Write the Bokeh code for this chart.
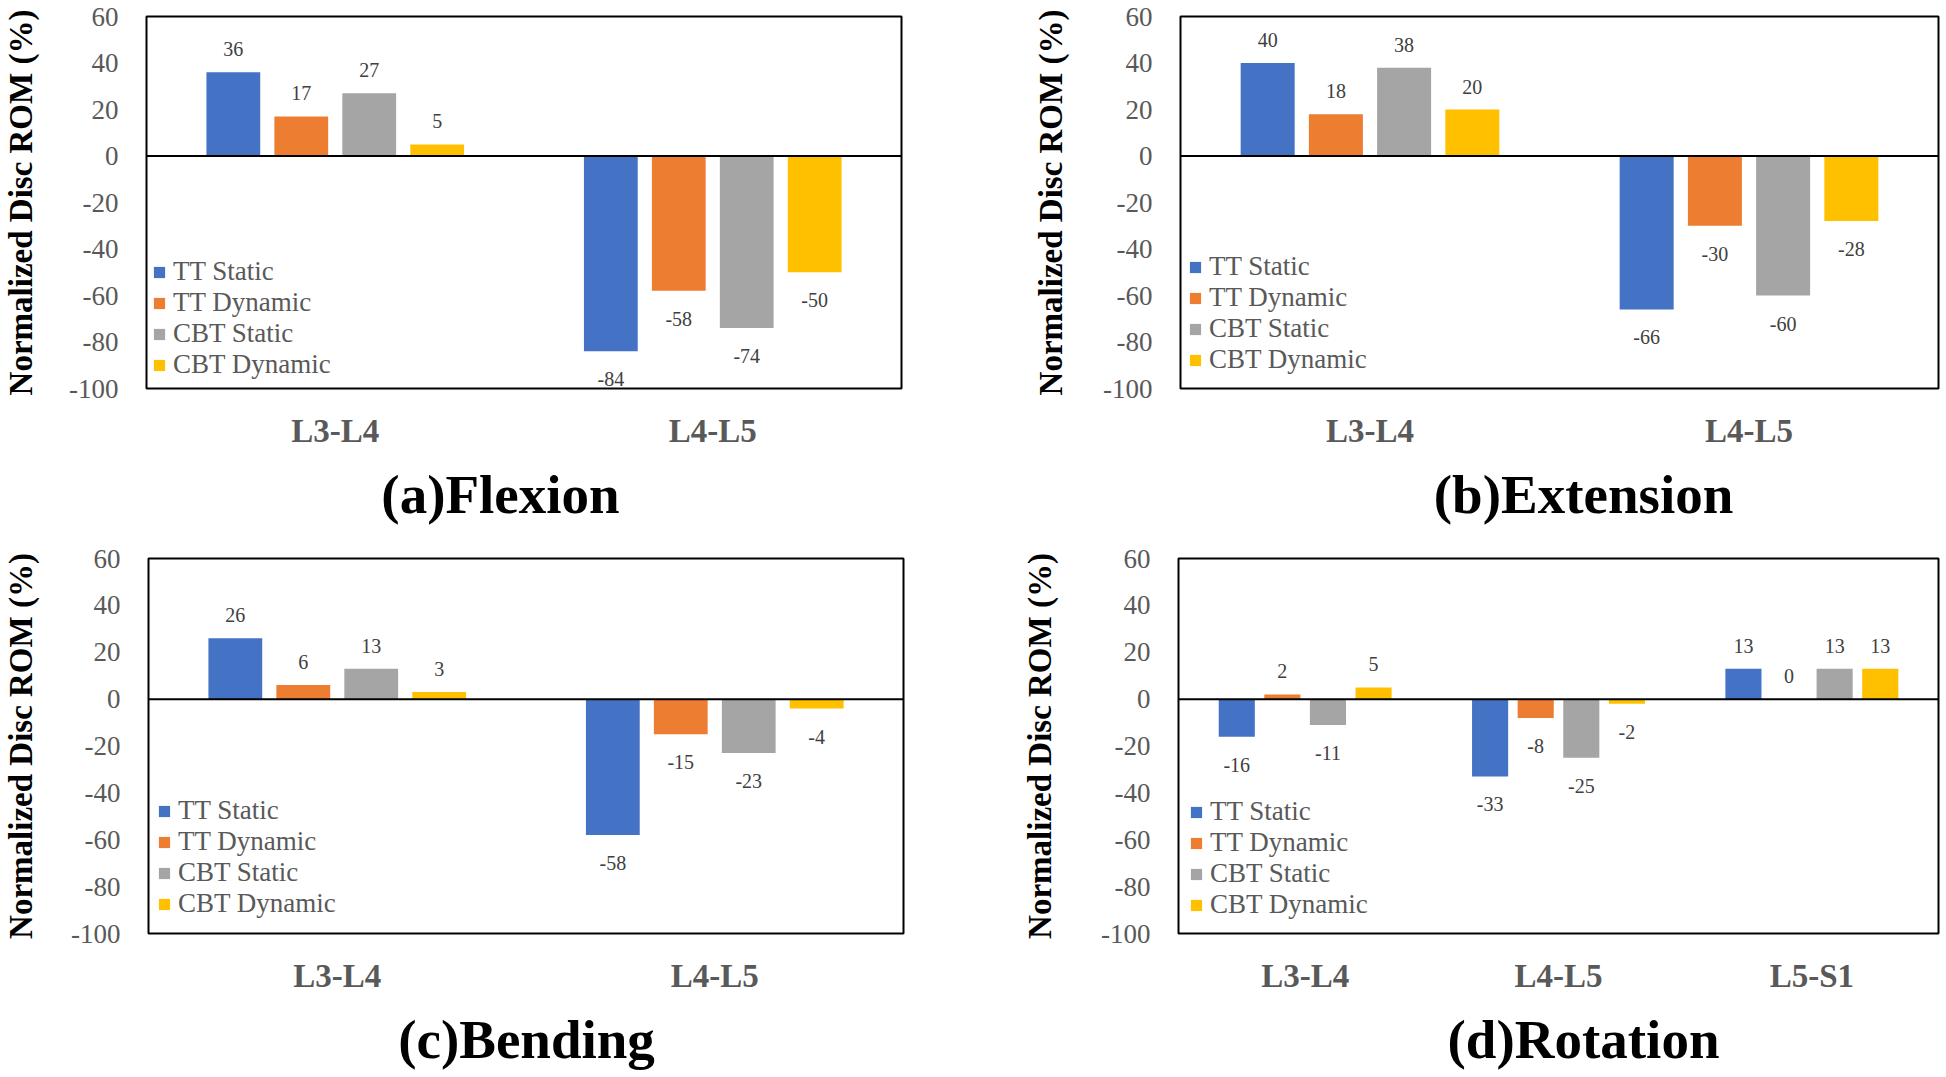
from bokeh.plotting import figure
from bokeh.models import (ColumnDataSource, FactorRange, Range1d, FixedTicker, Span,
                          LabelSet, Legend, LegendItem)
from bokeh.core.properties import value
from bokeh.transform import dodge
from bokeh.layouts import column, row
from bokeh.embed import file_html
from bokeh.resources import INLINE

series_names = ["TT Static", "TT Dynamic", "CBT Static", "CBT Dynamic"]
colors = ["#4472C4", "#ED7D31", "#A5A5A5", "#FFC000"]

cats_2 = ["L3-L4", "L4-L5"]
cats_3 = ["L3-L4", "L4-L5", "L5-S1"]

flex_tt_static = [36, -84]
flex_tt_dynamic = [17, -58]
flex_cbt_static = [27, -74]
flex_cbt_dynamic = [5, -50]

ext_tt_static = [40, -66]
ext_tt_dynamic = [18, -30]
ext_cbt_static = [38, -60]
ext_cbt_dynamic = [20, -28]

bend_tt_static = [26, -58]
bend_tt_dynamic = [6, -15]
bend_cbt_static = [13, -23]
bend_cbt_dynamic = [3, -4]

rot_tt_static = [-16, -33, 13]
rot_tt_dynamic = [2, -8, 0]
rot_cbt_static = [-11, -25, 13]
rot_cbt_dynamic = [5, -2, 13]

y_ticks = [-100, -80, -60, -40, -20, 0, 20, 40, 60]
titles_top = ["(a)Flexion", "(b)Extension"]
titles_bottom = ["(c)Bending", "(d)Rotation"]

SERIF = "Liberation Serif"
offsets = [-0.27, -0.09, 0.09, 0.27]
bar_w = 0.1425


def make_panel(cats, series, width, height, bl, br, bt, bb, ylab_standoff, legend_loc):
    p = figure(x_range=FactorRange(*cats, range_padding=0), y_range=Range1d(-100, 60),
               width=width, height=height, min_border_left=bl, min_border_right=br,
               min_border_top=bt, min_border_bottom=bb, toolbar_location=None,
               output_backend="svg")
    p.background_fill_color = "white"
    p.border_fill_color = "white"
    p.outline_line_color = "black"
    p.outline_line_width = 2
    p.xgrid.visible = False
    p.ygrid.visible = False

    legend_items = []
    for name, vals, col, off in zip(series_names, series, colors, offsets):
        src = ColumnDataSource(dict(cat=cats, val=vals, txt=[str(v) for v in vals],
                                    yoff=[23 if v >= 0 else -28 for v in vals]))
        r = p.vbar(x=dodge("cat", off, range=p.x_range), top="val", bottom=0, width=bar_w,
                   color=col, line_color=None, source=src)
        legend_items.append(LegendItem(label=name, renderers=[r]))
        p.add_layout(LabelSet(x=dodge("cat", off, range=p.x_range), y="val", text="txt",
                              y_offset="yoff", source=src, text_align="center",
                              text_baseline="middle", text_font=SERIF,
                              text_font_size="20px", text_color="#404040"))

    p.add_layout(Span(location=0, dimension="width", line_color="black", line_width=2))

    yax = p.yaxis[0]
    yax.ticker = FixedTicker(ticks=y_ticks)
    yax.major_label_overrides = {t: str(t) for t in y_ticks}
    yax.axis_line_color = None
    yax.major_tick_line_color = None
    yax.major_tick_out = 0
    yax.major_tick_in = 0
    yax.minor_tick_line_color = None
    yax.major_label_standoff = 28
    yax.major_label_text_font = SERIF
    yax.major_label_text_font_size = "27px"
    yax.major_label_text_color = "#595959"
    yax.axis_label = "Normalized Disc ROM (%)"
    yax.axis_label_text_font = SERIF
    yax.axis_label_text_font_style = "bold"
    yax.axis_label_text_font_size = "33px"
    yax.axis_label_text_color = "black"
    yax.axis_label_standoff = ylab_standoff

    xax = p.xaxis[0]
    xax.axis_line_color = None
    xax.major_tick_line_color = None
    xax.major_tick_out = 0
    xax.major_tick_in = 0
    xax.minor_tick_line_color = None
    xax.major_label_standoff = 24
    xax.major_label_text_font = SERIF
    xax.major_label_text_font_style = "bold"
    xax.major_label_text_font_size = "33px"
    xax.major_label_text_color = "#595959"

    legend = Legend(items=legend_items, location=legend_loc, padding=0, margin=0,
                    spacing=0, glyph_width=14, glyph_height=14, label_standoff=7,
                    label_text_font=SERIF, label_text_font_size="27px",
                    label_text_color="#595959", border_line_color=None,
                    background_fill_alpha=0)
    p.add_layout(legend, "center")
    return p


def make_title_strip(texts, centers, height, cy):
    s = figure(width=1944, height=height, x_range=Range1d(0, 1944), y_range=Range1d(height, 0),
               toolbar_location=None, output_backend="svg", min_border=0,
               x_axis_location=None, y_axis_location=None)
    s.outline_line_color = None
    s.xgrid.visible = False
    s.ygrid.visible = False
    s.text(x=centers, y=[cy] * len(texts), text=texts, text_align="center",
           text_baseline="middle", text_font=value(SERIF), text_font_style="bold",
           text_font_size="55px", text_color="black")
    return s


pa = make_panel(cats_2, [flex_tt_static, flex_tt_dynamic, flex_cbt_static, flex_cbt_dynamic],
                968, 455, 143, 67, 14, 67, 27, (6, 8))
pb = make_panel(cats_2, [ext_tt_static, ext_tt_dynamic, ext_cbt_static, ext_cbt_dynamic],
                976, 455, 212, 6, 16, 64, 31, (8, 13))
pc = make_panel(cats_2, [bend_tt_static, bend_tt_dynamic, bend_cbt_static, bend_cbt_dynamic],
                968, 460, 145, 65, 15, 70, 29, (9, 14))
pd = make_panel(cats_3, [rot_tt_static, rot_tt_dynamic, rot_cbt_static, rot_cbt_dynamic],
                976, 460, 210, 6, 15, 70, 40, (11, 13))

strip_top = make_title_strip(titles_top, [500, 1583], 88, 39)
strip_bottom = make_title_strip(titles_bottom, [526, 1583], 72, 36)

layout = column(row(pa, pb, spacing=0), strip_top, row(pc, pd, spacing=0), strip_bottom,
                spacing=0)

open("out.html", "w").write(file_html(layout, INLINE))
